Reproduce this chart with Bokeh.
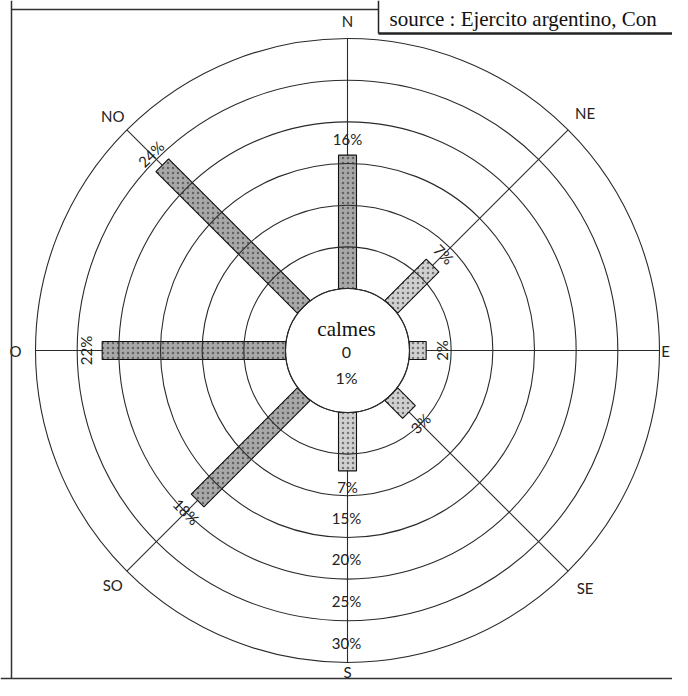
import numpy as np
from bokeh.plotting import figure
from bokeh.models import ColumnDataSource
from bokeh.core.properties import value
from bokeh.embed import file_html
from bokeh.resources import INLINE

# ---- data ----
directions = ["N", "NE", "E", "SE", "S", "SO", "O", "NO"]
dir_angles = [90, 45, 0, -45, -90, -135, 180, 135]      # compass -> math degrees
frequencies = [16, 7, 2, 3, 7, 18, 22, 24]               # % of observations
calm_label = "calmes"
calm_value = "0"
calm_pct = "1%"
ring_pcts = [0, 5, 10, 15, 20, 25, 30]
ring_label_pcts = [15, 20, 25, 30]
ring_labels = ["15%", "20%", "25%", "30%"]
source_text = "source : Ejercito argentino, Con"

# ---- scale ----
R0 = 62.0                # radius of the calm circle (0 %)
K = 250.0 / 30.0         # px per %
BAR_W = 18
LINE = "#2a2a2a"
SANS = value("Lato")
SERIF = value("Liberation Serif")

def rad(pct):
    return R0 + np.asarray(pct, dtype=float) * K

th = np.radians(dir_angles)
ring_r = rad(ring_pcts)
R_OUT = ring_r[-1]

p = figure(width=672, height=680, x_range=(-347, 325), y_range=(-330, 350),
           output_backend="svg", toolbar_location=None, min_border=0,
           x_axis_type=None, y_axis_type=None)
p.grid.visible = False
p.outline_line_color = None
p.background_fill_color = "white"
p.border_fill_color = "white"

# spokes
p.segment(x0=R0 * np.cos(th), y0=R0 * np.sin(th),
          x1=R_OUT * np.cos(th), y1=R_OUT * np.sin(th),
          line_color=LINE, line_width=1.1)

# bars
r_end = rad(frequencies)
r_mid = (R0 + r_end) / 2
bar_fill = ["#a8a8a8" if f > 10 else "#d0d0d0" for f in frequencies]
bars = ColumnDataSource(dict(x=r_mid * np.cos(th), y=r_mid * np.sin(th),
                             w=r_end - R0, a=th, c=bar_fill))
p.rect(x="x", y="y", width="w", height=BAR_W, angle="a", source=bars,
       fill_color="c", line_color="#111111", line_width=1.1,
       hatch_pattern="dot", hatch_color="#333333", hatch_scale=5, hatch_weight=1.2,
       hatch_alpha=0.6)

# rings
p.circle(x=[0] * len(ring_r), y=[0] * len(ring_r), radius=ring_r,
         fill_color=None, line_color=LINE, line_width=1.1)
# white calm disk interior
p.circle(x=[0], y=[0], radius=[R0 - 1], fill_color="white", line_color=None)
p.circle(x=[0], y=[0], radius=[R0], fill_color=None, line_color=LINE, line_width=1.1)

# value labels perpendicular to spokes
lab_r = r_end + 16
lab_ang = []
for a in dir_angles:
    t = a - 90
    while t > 90:
        t -= 180
    while t <= -90:
        t += 180
    lab_ang.append(t)
p.text(x=lab_r * np.cos(th), y=lab_r * np.sin(th),
       text=[f"{f}%" for f in frequencies], angle=lab_ang, angle_units="deg",
       text_font=SANS, text_font_size="15px", text_align="center",
       text_baseline="middle", text_color="#222222")

# ring labels on the S axis
p.text(x=[-1] * len(ring_labels), y=-(rad(ring_label_pcts) - 20),
       text=ring_labels, text_font=SANS, text_font_size="15px",
       text_align="center", text_baseline="middle", text_color="#222222")

# compass labels
comp_r = [330, 336, 318, 336, 321, 332, 332, 332]
comp_x = [r * np.cos(t) for r, t in zip(comp_r, th)]
comp_y = [r * np.sin(t) for r, t in zip(comp_r, th)]
p.text(x=comp_x, y=comp_y, text=directions, text_font=SANS, text_font_size="15px",
       text_align="center", text_baseline="middle", text_color="#222222")

# calm text
p.text(x=[-1], y=[22], text=[calm_label], text_font=SERIF, text_font_size="21px",
       text_align="center", text_baseline="middle", text_color="#111111")
p.text(x=[-1, -1], y=[-2, -27], text=[calm_value, calm_pct], text_font=SANS,
       text_font_size="16px", text_align="center", text_baseline="middle",
       text_color="#222222")

# frame of the scanned page
p.segment(x0=[-336, -347, -336], y0=[350, -328, 341],
          x1=[-336, 325, 31], y1=[-328, -328, 341],
          line_color="#333333", line_width=1.5)
# source box
p.segment(x0=[31], y0=[350], x1=[31], y1=[317], line_color="#222222", line_width=1.5)
p.segment(x0=[31], y0=[317], x1=[325], y1=[317], line_color="#222222", line_width=2.5)
p.text(x=[42], y=[332], text=[source_text], text_font=SERIF, text_font_size="21px",
       text_align="left", text_baseline="middle", text_color="#111111")

open("out.html", "w").write(file_html(p, INLINE))
